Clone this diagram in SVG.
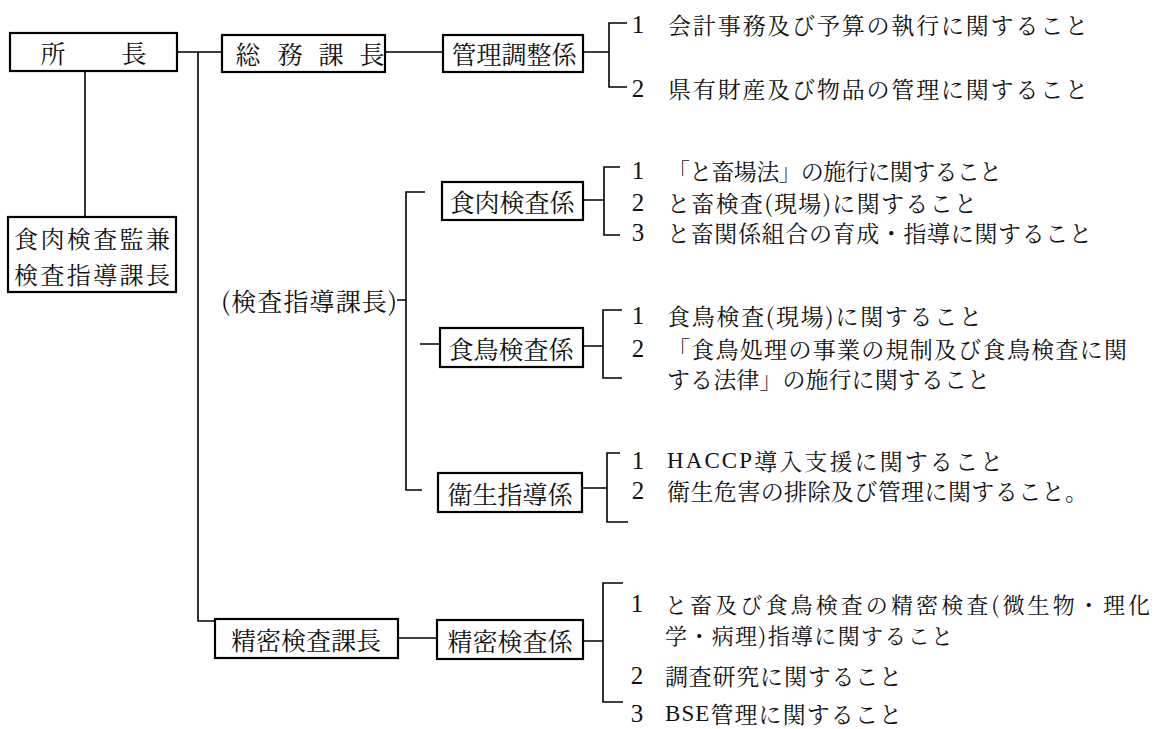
<svg xmlns="http://www.w3.org/2000/svg" width="1160" height="729" viewBox="0 0 1160 729">
<style>
.box{fill:#fff;stroke:#000;stroke-width:2.2}
.ln{fill:none;stroke:#000;stroke-width:1.6}
.jp{font-family:"Noto Serif CJK JP","Noto Sans CJK JP",serif;fill:#111;dominant-baseline:central}
.bx{font-size:25px}
.it{font-size:23px}
.num{font-family:"Liberation Serif",serif;font-size:25px;fill:#111;dominant-baseline:central;text-anchor:middle}
.lat{font-family:"Liberation Serif",serif}
</style>
<rect width="1160" height="729" fill="#fff"/>
<g id="connectors" class="ln">
<path d="M177 52H222M198 52V621H215"/>
<path d="M85 71V217"/>
<path d="M385 52H443M583 52H609M627 23H609V87H627"/>
<path d="M397 300H406M425 192H406V490H422"/>
<path d="M583 200H604M620 167H604V235H620"/>
<path d="M420 344H440M583 346H603M622 310H603V378H622"/>
<path d="M582 488H607M620 453H607V522H628"/>
<path d="M398 638H437M583 641H603M623 583H603V702H623"/>
</g>
<g id="shocho">
<rect class="box" x="10" y="33" width="167" height="38"/>
<text class="jp bx" x="53" y="52" text-anchor="middle">所</text>
<text class="jp bx" x="134" y="52" text-anchor="middle">長</text>
</g>
<g id="somu">
<rect class="box" x="222" y="35" width="163" height="37"/>
<text class="jp bx" y="53" text-anchor="middle"><tspan x="248">総</tspan><tspan x="290">務</tspan><tspan x="331">課</tspan><tspan x="372">長</tspan></text>
</g>
<g id="kanri">
<rect class="box" x="443" y="35" width="140" height="37"/>
<text class="jp bx" x="514" y="53" text-anchor="middle">管理調整係</text>
</g>
<g id="kanri-items">
<text class="num" x="638" y="24">1</text>
<text class="jp it" x="668" y="24" textLength="420">会計事務及び予算の執行に関すること</text>
<text class="num" x="638" y="88">2</text>
<text class="jp it" x="668" y="88" textLength="420">県有財産及び物品の管理に関すること</text>
</g>
<g id="kansa">
<rect class="box" x="8" y="217" width="168" height="75"/>
<text class="jp" x="92" y="237" font-size="24" text-anchor="middle" textLength="156">食肉検査監兼</text>
<text class="jp" x="92" y="273" font-size="24" text-anchor="middle" textLength="156">検査指導課長</text>
</g>
<g id="kensa-shido">
<text class="jp" x="221" y="300" font-size="25" textLength="176">(検査指導課長)</text>
</g>
<g id="shokuniku">
<rect class="box" x="442" y="182" width="141" height="38"/>
<text class="jp bx" x="512" y="201" text-anchor="middle">食肉検査係</text>
</g>
<g id="shokuniku-items">
<text class="num" x="638" y="170">1</text>
<text class="jp it" x="667" y="170" textLength="335">「と畜場法」の施行に関すること</text>
<text class="num" x="638" y="202">2</text>
<text class="jp it" x="667" y="202" textLength="310">と畜検査(現場)に関すること</text>
<text class="num" x="638" y="232">3</text>
<text class="jp it" x="667" y="232" textLength="425">と畜関係組合の育成・指導に関すること</text>
</g>
<g id="shokucho">
<rect class="box" x="440" y="328" width="143" height="39"/>
<text class="jp bx" x="511" y="348" text-anchor="middle">食鳥検査係</text>
</g>
<g id="shokucho-items">
<text class="num" x="638" y="315">1</text>
<text class="jp it" x="667" y="315" textLength="315">食鳥検査(現場)に関すること</text>
<text class="num" x="638" y="348">2</text>
<text class="jp it" x="667" y="348" textLength="460">「食鳥処理の事業の規制及び食鳥検査に関</text>
<text class="jp it" x="667" y="378" textLength="323">する法律」の施行に関すること</text>
</g>
<g id="eisei">
<rect class="box" x="438" y="473" width="144" height="39"/>
<text class="jp bx" x="510" y="493" text-anchor="middle">衛生指導係</text>
</g>
<g id="eisei-items">
<text class="num" x="638" y="460">1</text>
<text class="jp it" x="667" y="460" textLength="336"><tspan class="lat">HACCP</tspan>導入支援に関すること</text>
<text class="num" x="638" y="490">2</text>
<text class="jp it" x="667" y="490" textLength="421">衛生危害の排除及び管理に関すること。</text>
</g>
<g id="seimitsu-kacho">
<rect class="box" x="215" y="619" width="183" height="39"/>
<text class="jp bx" x="306" y="639" text-anchor="middle">精密検査課長</text>
</g>
<g id="seimitsu">
<rect class="box" x="437" y="620" width="146" height="39"/>
<text class="jp bx" x="510" y="640" text-anchor="middle">精密検査係</text>
</g>
<g id="seimitsu-items">
<text class="num" x="637" y="603">1</text>
<text class="jp" x="665" y="603" font-size="22" textLength="485">と畜及び食鳥検査の精密検査(微生物・理化</text>
<text class="jp" x="665" y="634" font-size="22" textLength="288">学・病理)指導に関すること</text>
<text class="num" x="637" y="675">2</text>
<text class="jp it" x="665" y="675" textLength="237">調査研究に関すること</text>
<text class="num" x="637" y="713">3</text>
<text class="jp it" x="665" y="713" textLength="237"><tspan class="lat">BSE</tspan>管理に関すること</text>
</g>
</svg>
